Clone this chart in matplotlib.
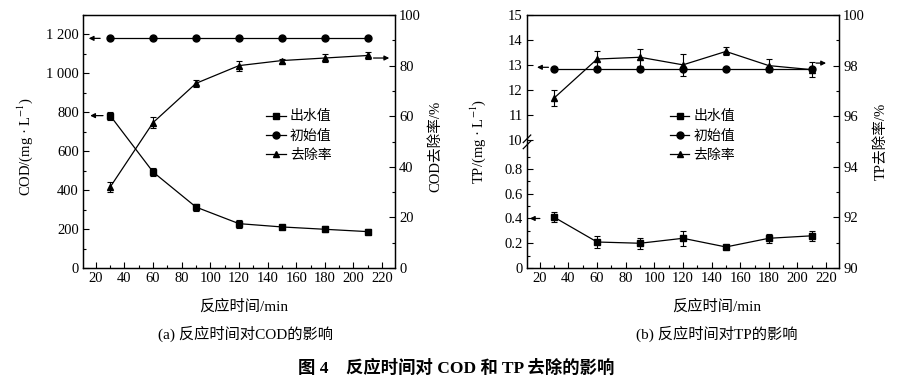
import numpy as np
import matplotlib
matplotlib.use("Agg")
import matplotlib.pyplot as plt
from matplotlib.ticker import MultipleLocator

plt.rcParams["font.family"] = ["Liberation Serif", "Noto Sans CJK SC"]
plt.rcParams["mathtext.fontset"] = "stix"
plt.rcParams["font.size"] = 10.5
plt.rcParams["axes.linewidth"] = 0.9

# 反应时间
t = [30, 60, 90, 120, 150, 180, 210]
x_ticks = [20, 40, 60, 80, 100, 120, 140, 160, 180, 200, 220]

# (a) COD
cod_out = [783, 493, 313, 228, 211, 199, 187]
cod_out_err = [20, 20, 18, 20, 8, 15, 12]
cod_in = [1180, 1180, 1180, 1180, 1180, 1180, 1180]
cod_rate = [32.0, 57.5, 73.0, 80.0, 82.0, 83.0, 84.0]
cod_rate_err = [2.0, 2.0, 1.5, 2.0, 0.8, 1.5, 1.2]
cod_ticks = [0, 200, 400, 600, 800, 1000, 1200]
cod_tick_labels = ["0", "200", "400", "600", "800", "1 000", "1 200"]

# (b) TP
tp_out = [0.41, 0.21, 0.20, 0.24, 0.17, 0.24, 0.26]
tp_out_err = [0.04, 0.045, 0.045, 0.06, 0.01, 0.035, 0.04]
tp_in = [12.85, 12.85, 12.85, 12.85, 12.85, 12.85, 12.85]
tp_rate = [96.72, 98.26, 98.33, 98.03, 98.56, 98.0, 97.84]
tp_rate_err = [0.31, 0.33, 0.33, 0.44, 0.16, 0.27, 0.29]
tp_ticks = [0, 0.2, 0.4, 0.6, 0.8, 10, 11, 12, 13, 14, 15]
tp_tick_labels = ["0", "0.2", "0.4", "0.6", "0.8", "10", "11", "12", "13", "14", "15"]


# 断轴：0~1 和 10~15 两段
def fwd(y):
    y = np.asarray(y, dtype=float)
    return np.where(y <= 1, y * 371.0,
                    np.where(y < 10, 371.0 + (y - 1) * 14.0 / 9.0,
                             385.0 + (y - 10) * 74.6))


def inv(v):
    v = np.asarray(v, dtype=float)
    return np.where(v <= 371, v / 371.0,
                    np.where(v < 385, 1 + (v - 371.0) * 9.0 / 14.0,
                             10 + (v - 385.0) / 74.6))


fig = plt.figure(figsize=(9.13, 3.82), dpi=100)
ax1 = fig.add_axes([0.0909, 0.2984, 0.3417, 0.6623])
ax2 = fig.add_axes([0.5772, 0.2984, 0.3417, 0.6623])
ax1r = ax1.twinx()
ax2r = ax2.twinx()

eb = dict(color="black", lw=0.9, ms=5, capsize=2.5, elinewidth=0.8, capthick=0.8)

# (a)
h1 = ax1.errorbar(t, cod_out, yerr=cod_out_err, marker="s", **eb)
(h2,) = ax1.plot(t, cod_in, marker="o", color="black", lw=0.9, ms=5)
h3 = ax1r.errorbar(t, cod_rate, yerr=cod_rate_err, marker="^", **eb)

# (b)
h4 = ax2.errorbar(t, tp_out, yerr=tp_out_err, marker="s", **eb)
(h5,) = ax2.plot(t, tp_in, marker="o", color="black", lw=0.9, ms=5)
h6 = ax2r.errorbar(t, tp_rate, yerr=tp_rate_err, marker="^", **eb)

arrow = dict(arrowstyle="-|>", lw=0.9, color="black", mutation_scale=7,
             shrinkA=0, shrinkB=0)
ax1.annotate("", xy=(15, cod_in[0]), xytext=(23, cod_in[0]), arrowprops=arrow)
ax1.annotate("", xy=(16, cod_out[0]), xytext=(25, cod_out[0]), arrowprops=arrow)
ax1r.annotate("", xy=(225, cod_rate[-1] - 1), xytext=(214, cod_rate[-1] - 1),
              arrowprops=arrow)
ax2.annotate("", xy=(18, tp_in[0] + 0.05), xytext=(26, tp_in[0] + 0.05),
             arrowprops=arrow)
ax2.annotate("", xy=(13, tp_out[0] - 0.01), xytext=(20, tp_out[0] - 0.01),
             arrowprops=arrow)
ax2r.annotate("", xy=(220, 98.1), xytext=(213, 98.1), arrowprops=arrow)

# 坐标轴
for ax in (ax1, ax2):
    ax.set_xlim(11, 229)
    ax.set_xticks(x_ticks)
    ax.xaxis.set_minor_locator(MultipleLocator(10))

ax1.set_ylim(0, 1300)
ax1.set_yticks(cod_ticks, cod_tick_labels)
ax1.yaxis.set_minor_locator(MultipleLocator(100))
ax1r.set_ylim(0, 100)
ax1r.yaxis.set_major_locator(MultipleLocator(20))
ax1r.yaxis.set_minor_locator(MultipleLocator(10))

ax2.set_yscale("function", functions=(fwd, inv))
ax2.set_ylim(0, 15)
ax2.set_yticks(tp_ticks, tp_tick_labels)
ax2.set_yticks([0.1, 0.3, 0.5, 0.7, 0.9], minor=True)
ax2r.set_ylim(90, 100)
ax2r.yaxis.set_major_locator(MultipleLocator(2))
ax2r.yaxis.set_minor_locator(MultipleLocator(1))

for ax in (ax1, ax2, ax1r, ax2r):
    ax.tick_params(which="both", direction="in", top=False, labelsize=10.5, width=0.8)
    ax.tick_params(which="major", length=4, pad=3)
    ax.tick_params(which="minor", length=2)

# 断轴符号
yb = float(fwd(5.5)) / float(fwd(15))
for dy in (-0.012, 0.012):
    ax2.plot([-0.012, 0.012], [yb + dy - 0.015, yb + dy + 0.015],
             transform=ax2.transAxes, color="black", lw=0.9, clip_on=False)

ax1.set_ylabel("COD/(mg · L$^{-1}$)", fontsize=10.5)
ax1.yaxis.set_label_coords(-0.154, 0.48)
ax1r.set_ylabel("COD去除率/%", fontsize=10.5)
ax1r.yaxis.set_label_coords(1.109, 0.48)
ax2.set_ylabel("TP/(mg · L$^{-1}$)", fontsize=10.5)
ax2.yaxis.set_label_coords(-0.125, 0.5)
ax2r.set_ylabel("TP去除率/%", fontsize=10.5)
ax2r.yaxis.set_label_coords(1.112, 0.5)

labels = ["出水值", "初始值", "去除率"]
leg_kw = dict(loc="upper left", frameon=False, fontsize=10, handlelength=1.4,
              handletextpad=0.3, labelspacing=0.45, borderaxespad=0)
ax1r.legend([h1.lines[0], h2, h3.lines[0]], labels, bbox_to_anchor=(0.57, 0.645), **leg_kw)
ax2r.legend([h4.lines[0], h5, h6.lines[0]], labels, bbox_to_anchor=(0.44, 0.645), **leg_kw)

# 标题与说明
fig.text(243.5 / 913, 1 - 306 / 382, "反应时间/min", ha="center", va="center", fontsize=11)
fig.text(717 / 913, 1 - 306 / 382, "反应时间/min", ha="center", va="center", fontsize=11)
fig.text(245 / 913, 1 - 334 / 382, "(a) 反应时间对COD的影响", ha="center", va="center", fontsize=11)
fig.text(717 / 913, 1 - 334 / 382, "(b) 反应时间对TP的影响", ha="center", va="center", fontsize=11)
fig.text(456 / 913, 1 - 368 / 382, "图 4    反应时间对 COD 和 TP 去除的影响",
         ha="center", va="center", fontsize=12.5, fontweight="bold")

fig.savefig("out.png", dpi=100)
